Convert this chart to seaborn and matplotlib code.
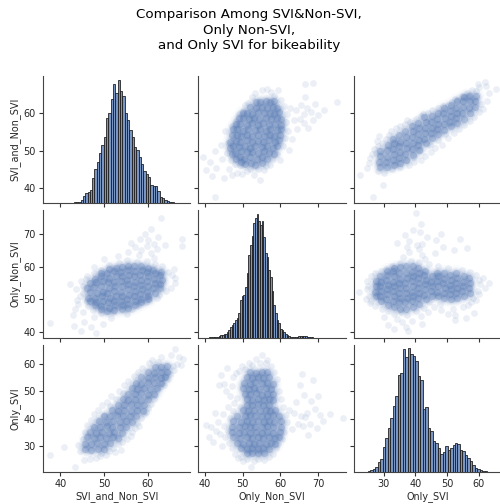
import numpy as np
import pandas as pd
import matplotlib
matplotlib.use('Agg')
import matplotlib.pyplot as plt
import seaborn as sns

names = ['SVI_and_Non_SVI', 'Only_Non_SVI', 'Only_SVI']
lims = [(36, 69.8), (38.3, 77.3), (20.5, 67)]
ticks = [[40, 50, 60], [40, 50, 60, 70], [30, 40, 50, 60]]

# histogram bar heights
a_start, a_width = 41.4, 0.535
a_counts = [1, 2, 2, 3, 4, 5, 10, 22, 30, 33, 38, 75, 100, 120, 148, 172, 195, 250, 265, 305, 350, 322, 362,
            330, 315, 265, 245, 215, 195, 165, 155, 135, 115, 95, 85, 78, 55, 50, 50, 35, 20, 17, 10, 7, 5, 3, 2, 2, 1]
b_start, b_width = 41.0, 0.44
b_counts = [1, 1, 1, 1, 2, 3, 5, 8, 8, 10, 10, 15, 22, 30, 36, 40, 48, 55, 70, 105, 115, 120, 140, 180, 230, 260,
            285, 320, 335, 345, 325, 315, 325, 280, 235, 225, 190, 170, 130, 90, 70, 50, 40, 25, 20, 15, 10, 8, 5,
            3, 2, 2, 3, 3, 5, 6, 6, 6, 4, 3, 1, 1, 1]
c_start, c_width = 25.0, 0.785
c_counts = [2, 6, 10, 15, 30, 37, 72, 100, 130, 157, 192, 222, 285, 290, 360, 338, 362, 345, 340, 325, 280, 270, 185,
            190, 130, 120, 92, 85, 70, 52, 60, 75, 65, 70, 80, 85, 82, 65, 62, 50, 40, 32, 20, 13, 8, 6, 3, 2, 1]

# scatter clouds, (x, y) per pair of variables
ab_core = [
    (49.6, 46.9), (50.6, 46.4), (52.2, 46.8), (53.4, 46.2), (55.1, 46.7),
    (48.2, 47.9), (49.2, 48.2), (50.4, 47.9), (52.1, 48.3), (53.7, 47.8), (55.2, 48.2), (56.4, 47.9),
    (47.2, 49.2), (48.1, 49.4), (49.6, 49.8), (51.2, 49.5), (52.4, 49.7), (54.1, 49.3), (55.6, 49.8), (57.1, 49.4), (58.2, 49.2),
    (46.6, 50.8), (47.4, 51.2), (49.1, 50.9), (50.6, 51.3), (52.1, 50.8), (53.4, 51.2), (55.2, 50.9), (56.6, 51.2), (58.1, 50.8), (59.2, 51.1),
    (46.8, 52.4), (48.2, 52.6), (49.4, 52.3), (51.1, 52.7), (52.6, 52.4), (54.2, 52.6), (55.4, 52.3), (57.1, 52.7), (58.6, 52.4), (59.6, 52.8),
    (47.1, 54.1), (48.4, 54.1), (49.6, 53.8), (51.2, 54.2), (52.4, 53.9), (54.1, 54.2), (55.6, 53.8), (57.2, 54.1), (58.4, 53.9), (59.8, 54.2),
    (47.4, 55.6), (48.6, 55.6), (50.1, 55.3), (51.4, 55.7), (53.2, 55.4), (54.6, 55.6), (56.1, 55.3), (57.4, 55.7), (59.1, 55.4), (60.1, 55.6),
    (48.2, 57.1), (49.4, 57.1), (51.1, 56.9), (52.6, 57.2), (54.1, 56.8), (55.4, 57.2), (57.1, 56.9), (58.6, 57.1), (60.1, 56.8),
    (49.1, 58.6), (50.1, 58.6), (51.6, 58.3), (53.1, 58.7), (54.4, 58.4), (56.1, 58.6), (57.6, 58.3), (59.1, 58.7), (60.1, 58.4),
    (50.1, 60.1), (51.1, 60.1), (52.4, 59.8), (54.1, 60.2), (55.6, 59.9), (57.2, 60.1), (58.4, 59.8), (59.6, 60.2),
    (52.1, 61.6), (53.6, 61.3), (55.1, 61.7), (56.4, 61.4), (58.1, 61.6), (59.1, 61.3),
    (53.6, 62.9), (54.6, 62.8), (56.1, 63.2), (57.4, 62.9), (58.4, 63.1),
]
ab_fringe = [
    (39.6, 48.2), (40.2, 44.8), (41.5, 47.1), (41.9, 43.2), (42.6, 49.8), (43.1, 45.3), (42.8, 37.7), (44.2, 51.6),
    (44.6, 47.7), (45.1, 42.8), (45.4, 55.2), (45.8, 49.3), (46.1, 52.1), (46.3, 45.2), (46.9, 47.4), (47.1, 56.4),
    (47.2, 43.4), (47.6, 53.3), (48.1, 46.4), (48.3, 57.8), (48.6, 44.1), (49.1, 59.6), (49.4, 46.2), (49.8, 43.8),
    (50.2, 60.4), (50.6, 62.1), (51.2, 44.6), (51.4, 62.6), (52.1, 45.1), (52.6, 64.2), (53.1, 43.6), (53.4, 65.3),
    (54.2, 45.2), (54.6, 42.2), (55.1, 66.2), (55.6, 44.8), (56.2, 45.9), (56.6, 66.4), (57.2, 46.2), (57.6, 65.6),
    (58.1, 47.8), (58.4, 64.6), (59.1, 49.2), (59.3, 66.1), (59.8, 47.6), (60.2, 63.4), (60.6, 51.2), (60.9, 61.8),
    (61.2, 53.4), (61.4, 57.6), (61.8, 59.8), (62.1, 55.2), (62.4, 50.1), (62.6, 61.4), (63.2, 53.1), (63.6, 58.1),
    (64.1, 60.8), (64.4, 55.6), (65.1, 58.4), (65.6, 62.1), (66.2, 57.2), (66.4, 59.8), (67.1, 61.4), (67.4, 56.1),
    (68.1, 60.2), (68.6, 58.2), (69.2, 62.4), (70.1, 59.4), (71.6, 60.8), (75.1, 63), (66.5, 67.8), (68.6, 67.9), (66.6, 64.1),
]
ac_core = [
    (45.6, 28.9), (47.1, 28.6), (48.6, 28.8), (50.0, 28.9),
    (45.7, 30.9), (47.1, 30.8), (48.4, 31.1), (50.1, 30.9), (51.4, 31.2),
    (46.1, 33.1), (47.6, 32.8), (49.1, 33.2), (50.4, 32.9), (52.1, 33.1), (53.2, 33.0),
    (46.8, 35.2), (48.1, 34.8), (49.6, 35.1), (51.1, 34.9), (52.4, 35.2), (54.1, 34.8),
    (47.6, 37.1), (49.1, 36.8), (50.6, 37.2), (51.9, 36.9), (53.6, 37.1), (55.1, 36.8),
    (48.9, 39.2), (50.4, 38.8), (52.1, 39.1), (53.6, 38.9), (55.1, 39.2), (56.4, 38.8),
    (50.1, 41.1), (51.4, 40.9), (52.9, 41.2), (54.4, 40.8), (55.9, 41.1), (57.4, 40.9),
    (51.9, 43.2), (53.1, 42.8), (54.6, 43.1), (56.1, 42.9), (57.6, 43.2), (58.9, 42.8),
    (53.3, 45.1), (54.6, 44.9), (56.1, 45.2), (57.6, 44.8), (59.1, 45.1),
    (54.4, 47.2), (55.6, 46.8), (57.1, 47.1), (58.4, 46.9), (60.1, 47.2),
    (55.4, 49.1), (57.1, 48.9), (58.6, 49.2), (60.1, 48.8), (61.4, 49.1),
    (56.4, 51.2), (57.6, 50.8), (59.1, 51.1), (60.6, 50.9), (62.1, 51.2),
    (57.3, 53.1), (58.6, 52.8), (60.1, 53.2), (61.4, 52.9), (63.1, 53.1),
    (58.4, 55.2), (60.1, 54.8), (61.6, 55.1), (63.1, 54.9), (64.1, 55.2),
    (60.1, 57.1), (61.4, 56.8), (63.1, 57.2), (64.4, 56.9),
    (61.6, 58.9), (63.1, 58.8), (64.4, 59.1),
]
ac_fringe = [
    (37.7, 26.6), (40.8, 29.6), (43.4, 22.4), (44.1, 30.2), (44.6, 28.1), (45.1, 32.6), (45.4, 24.8), (45.6, 35.1),
    (46.2, 37.8), (46.4, 33.6), (46.8, 25.4), (47.1, 39.6), (47.4, 37.2), (47.6, 41.8), (48.1, 25.6), (48.3, 39.4),
    (48.6, 43.1), (49.1, 26.4), (49.4, 27.6), (49.6, 44.8), (50.1, 41.4), (50.4, 26.8), (50.8, 46.2), (51.1, 28.2),
    (51.4, 44.6), (51.6, 48.4), (52.1, 29.4), (52.6, 27.8), (52.8, 47.1), (53.1, 30.6), (53.4, 50.2), (53.8, 28.4),
    (54.1, 31.6), (54.4, 49.2), (54.6, 52.1), (55.2, 32.4), (55.6, 53.6), (56.1, 33.8), (56.4, 35.2), (56.8, 55.4),
    (57.1, 36.6), (57.6, 38.4), (57.8, 57.1), (58.1, 37.2), (58.4, 40.2), (58.8, 58.6), (59.1, 41.6), (59.6, 42.4),
    (60.1, 43.8), (60.3, 60.2), (60.8, 45.2), (61.1, 61.4), (61.4, 47.1), (61.8, 48.6), (62.1, 50.4), (62.3, 60.8),
    (62.8, 51.6), (63.1, 62.6), (63.4, 53.1), (63.8, 52.4), (64.1, 55.1), (64.6, 54.6), (64.8, 57.1), (65.2, 56.4),
    (65.4, 63.2), (65.8, 59.1), (66.1, 57.8), (66.4, 65.3), (66.8, 60.1), (67.2, 62.4), (67.6, 59.6), (68.1, 61.8),
]
bc_core = [
    (51.1, 27.6), (52.4, 27.3), (54.1, 27.6), (55.6, 27.4),
    (49.6, 29.1), (51.1, 28.8), (52.6, 29.2), (54.1, 28.9), (55.4, 29.1), (57.1, 28.8),
    (48.4, 31.2), (50.1, 30.8), (51.6, 31.1), (53.1, 30.9), (54.4, 31.2), (56.1, 30.8), (57.6, 31.1), (58.6, 30.9),
    (47.6, 33.1), (49.4, 32.8), (51.1, 33.2), (52.6, 32.9), (54.1, 33.1), (55.4, 32.8), (57.1, 33.2), (58.6, 32.9), (59.6, 33.1),
    (47.2, 35.2), (49.1, 34.8), (50.4, 35.1), (52.1, 34.9), (53.6, 35.2), (55.1, 34.8), (56.4, 35.1), (58.1, 34.9), (59.9, 35.2),
    (47.1, 37.1), (49.1, 36.8), (50.6, 37.2), (52.1, 36.9), (53.4, 37.1), (55.1, 36.8), (56.6, 37.2), (58.1, 36.9), (60.1, 37.1),
    (47.6, 39.2), (49.6, 38.8), (51.1, 39.1), (52.4, 38.9), (54.1, 39.2), (55.6, 38.8), (57.1, 39.1), (58.4, 38.9), (60.1, 39.2),
    (48.6, 41.1), (50.6, 40.8), (52.1, 41.2), (53.4, 40.9), (55.1, 41.1), (56.6, 40.8), (58.1, 41.2), (59.6, 40.9),
    (50.1, 43.2), (51.4, 42.8), (53.1, 43.1), (54.6, 42.9), (56.1, 43.2), (57.4, 42.8), (58.6, 43.1),
    (51.1, 45.1), (52.6, 44.9), (54.1, 45.2), (55.4, 44.8), (57.1, 45.1),
    (51.1, 47.2), (52.4, 46.8), (54.1, 47.1), (55.6, 46.9), (57.1, 47.2), (58.1, 46.8),
    (50.6, 49.1), (52.1, 48.9), (53.6, 49.2), (55.1, 48.8), (56.4, 49.1), (58.1, 48.9),
    (50.1, 51.2), (51.6, 50.8), (53.1, 51.1), (54.4, 50.9), (56.1, 51.2), (57.6, 50.8),
    (50.4, 53.1), (52.1, 52.8), (53.4, 53.2), (55.1, 52.9), (56.6, 53.1), (58.1, 52.8),
    (51.1, 55.2), (52.6, 54.8), (54.1, 55.1), (55.4, 54.9), (57.1, 55.2),
    (52.1, 57.1), (53.6, 56.8), (55.1, 57.2), (56.6, 56.9),
]
bc_fringe = [
    (40.2, 37.6), (41.1, 33.2), (41.6, 37.1), (42.2, 31.4), (42.6, 42.1), (43.1, 35.6), (43.4, 38.8), (43.8, 52.4),
    (44.1, 34.2), (44.4, 56.1), (44.6, 30.1), (44.8, 41.6), (45.1, 37.4), (45.2, 52.6), (45.4, 33.1), (45.6, 50.2),
    (45.8, 58.4), (46.1, 35.4), (46.2, 44.1), (46.4, 31.2), (46.6, 40.2), (46.8, 48.2), (47.1, 29.4), (47.2, 51.8),
    (47.4, 42.6), (47.6, 55.1), (47.8, 45.8), (48.1, 27.2), (48.3, 56.6), (48.6, 47.6), (48.8, 25.6), (49.1, 57.4),
    (49.3, 44.2), (49.6, 26.1), (49.8, 59.2), (50.2, 24.4), (50.6, 58.1), (51.2, 25.2), (51.6, 60.2), (52.2, 22.2),
    (52.6, 59.6), (53.1, 24.6), (53.6, 61.8), (54.1, 25.1), (54.6, 60.4), (55.1, 63.1), (55.6, 24.8), (56.1, 60.2),
    (56.6, 61.4), (57.1, 26.1), (57.6, 59.2), (58.1, 27.2), (58.4, 57.1), (58.8, 29.1), (59.1, 54.6), (59.4, 30.6),
    (59.6, 50.2), (60.1, 47.1), (60.4, 32.6), (60.8, 44.2), (61.1, 35.2), (61.4, 41.2), (61.8, 38.6), (62.4, 43.1),
    (63.1, 36.2), (63.6, 42.2), (64.1, 46.1), (64.6, 38.1), (65.1, 52.1), (65.4, 41.1), (65.8, 56.2), (66.1, 37.2),
    (66.2, 48.6), (66.6, 40.6), (67.1, 42.1), (67.4, 34.1), (67.8, 38.1), (68.1, 46.6), (68.6, 54.2), (69.1, 43.6),
    (69.6, 36.6), (70.1, 48.2), (70.6, 41.4), (71.4, 39.2), (73.1, 41.6), (76.6, 40.2),
]

sns.set_style('ticks')
plt.rcParams['font.family'] = ['DejaVu Sans']
plt.rcParams['font.size'] = 6.9

fig, axes = plt.subplots(3, 3, figsize=(5.0, 5.04), dpi=100)
fig.subplots_adjust(left=43 / 500, right=1.002, top=1 - 76 / 504, bottom=1 - 472 / 504, wspace=0.055, hspace=0.055)

pairs = {(0, 1): (ab_core, ab_fringe), (0, 2): (ac_core, ac_fringe), (1, 2): (bc_core, bc_fringe)}
blue = sns.color_palette('deep')[0]


def cloud(ax, pts, swap, alpha, size, lw=0.0):
    df = pd.DataFrame(pts, columns=['x', 'y'])
    if swap:
        df = df.rename(columns={'x': 'y', 'y': 'x'})
    sns.scatterplot(data=df, x='x', y='y', ax=ax, color=blue, alpha=alpha, s=size, linewidth=lw, edgecolor='white')


for (i, j), (core, fringe) in pairs.items():
    # ab lists are (Only_Non_SVI, SVI_and_Non_SVI), ac and bc lists are (lower var, Only_SVI)
    for ax, swap in [(axes[i, j], (i, j) != (0, 1)), (axes[j, i], (i, j) == (0, 1))]:
        cloud(ax, core, swap, 0.025, 150)
        cloud(ax, core, swap, 0.05, 85)
        cloud(ax, fringe, swap, 0.1, 24, 0.3)
        cloud(ax, core, swap, 0.12, 50)
        cloud(ax, core, swap, 0.3, 26)

diag = [(a_start, a_width, a_counts), (b_start, b_width, b_counts), (c_start, c_width, c_counts)]
for k, (start, width, counts) in enumerate(diag):
    tw = axes[k, k].twinx()
    centres = start + width * np.arange(len(counts)) + width / 2
    edges = start + width * np.arange(len(counts) + 1)
    sns.histplot(x=centres, weights=counts, bins=edges.tolist(), ax=tw, color=blue, edgecolor='#222222', linewidth=0.6, alpha=0.75)
    tw.set_ylim(0, max(counts) * 1.03)
    tw.set_axis_off()

for r in range(3):
    for c in range(3):
        ax = axes[r, c]
        ax.set_xlim(lims[c])
        ax.set_ylim(lims[r])
        ax.set_xticks(ticks[c])
        ax.set_yticks(ticks[r])
        ax.tick_params(labelsize=7, length=2.8, width=0.8, pad=2.2, color='#333333')
        ax.set_xlabel(names[c] if r == 2 else '', fontsize=6.9, labelpad=1.5)
        ax.set_ylabel(names[r] if c == 0 else '', fontsize=6.9, labelpad=2.5)
        if r < 2:
            ax.set_xticklabels([])
        if c > 0:
            ax.set_yticklabels([])
        sns.despine(ax=ax)
        for s in ['left', 'bottom']:
            ax.spines[s].set_linewidth(0.8)
            ax.spines[s].set_color('#444444')

fig.text(0.4975, 1 - 8 / 504, 'Comparison Among SVI&Non-SVI,\nOnly Non-SVI,\nand Only SVI for bikeability',
         ha='center', va='top', fontsize=9.6, color='black', linespacing=1.27)

fig.savefig('out.png', dpi=100)
